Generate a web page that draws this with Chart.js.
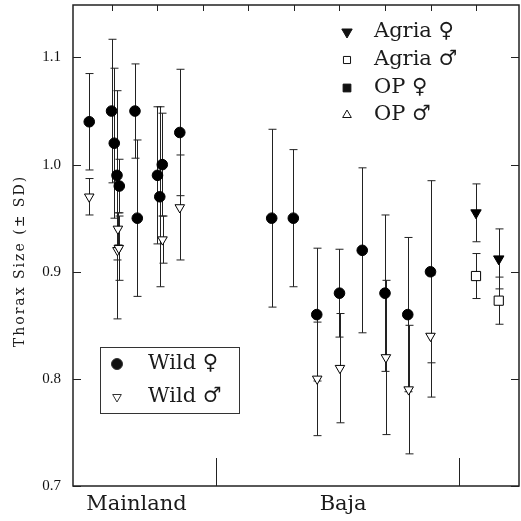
<!DOCTYPE html>
<html lang="en">
<head>
    <meta charset="UTF-8">
    <title>Thorax Size</title>
    <style>
        body { margin: 0; background: #fff; }
        canvas { display: block; }
    </style>
</head>
<body>
    <canvas id="thoraxChart" width="521" height="521"></canvas>

    <script src="https://cdn.jsdelivr.net/npm/chart.js"></script>
    <script>
        // Wild females (filled circles)
        const wildFemaleX  = [0.50, 0.99, 1.05, 1.11, 1.16, 1.505, 1.556, 2.00, 2.05, 2.105, 2.49, 4.51, 4.985, 5.50, 6.00, 6.50, 7.00, 7.50, 8.00];
        const wildFemaleY  = [1.040, 1.050, 1.020, 0.990, 0.980, 1.050, 0.950, 0.990, 0.970, 1.000, 1.030, 0.950, 0.950, 0.860, 0.880, 0.920, 0.880, 0.860, 0.900];
        const wildFemaleSD = [0.045, 0.067, 0.070, 0.079, 0.025, 0.044, 0.073, 0.064, 0.084, 0.048, 0.059, 0.083, 0.064, 0.062, 0.041, 0.077, 0.073, 0.072, 0.085];

        // Wild males (open down triangles)
        const wildMaleX  = [0.50, 1.13, 1.12, 1.15, 2.11, 2.49, 5.51, 6.01, 7.02, 7.52, 8.00];
        const wildMaleY  = [0.970, 0.940, 0.920, 0.922, 0.930, 0.960, 0.800, 0.810, 0.820, 0.790, 0.840];
        const wildMaleSD = [0.017, 0.015, 0.064, 0.030, 0.022, 0.049, 0.053, 0.051, 0.072, 0.060, 0.057];

        // Agria
        const agriaFemaleX  = [9.0, 9.5];
        const agriaFemaleY  = [0.955, 0.912];
        const agriaFemaleSD = [0.027, 0.028];
        const agriaMaleX  = [9.0, 9.5];
        const agriaMaleY  = [0.896, 0.873];
        const agriaMaleSD = [0.021, 0.022];

        const yTickValues = [0.7, 0.8, 0.9, 1.0, 1.1];
        const topTickValues = [1, 2, 3, 4, 5, 6, 7, 8, 9];
        const separatorValues = [3.285, 8.63];
        const regionNames = ['Mainland', 'Baja'];
        const regionCenters = [1.54, 6.08];
        const yTitle = 'Thorax Size (± SD)';

        const labelFont = '21px "DejaVu Serif", serif';

        function toPoints(xs, ys) {
            return xs.map((x, i) => ({ x: x, y: ys[i] }));
        }

        function drawLabel(ctx, str, x, y, align) {
            ctx.save();
            ctx.font = labelFont;
            ctx.fillStyle = '#1a1a1a';
            ctx.textAlign = align || 'left';
            ctx.textBaseline = 'middle';
            ctx.fillText(str, x, y);
            ctx.restore();
        }

        const errorBars = {
            id: 'errorBars',
            beforeDatasetsDraw(chart) {
                const ctx = chart.ctx;
                const xs = chart.scales.x, ys = chart.scales.y;
                ctx.save();
                ctx.strokeStyle = '#222';
                ctx.lineWidth = 1;
                chart.data.datasets.forEach(ds => {
                    ds.data.forEach((p, i) => {
                        const sd = ds.sd[i];
                        const px = Math.round(xs.getPixelForValue(p.x)) + 0.5;
                        const top = ys.getPixelForValue(p.y + sd);
                        const bot = ys.getPixelForValue(p.y - sd);
                        ctx.beginPath();
                        ctx.moveTo(px, top); ctx.lineTo(px, bot);
                        ctx.moveTo(px - 4, top); ctx.lineTo(px + 4, top);
                        ctx.moveTo(px - 4, bot); ctx.lineTo(px + 4, bot);
                        ctx.stroke();
                    });
                });
                ctx.restore();
            }
        };

        const frameAndLabels = {
            id: 'frameAndLabels',
            afterDraw(chart) {
                const ctx = chart.ctx;
                const a = chart.chartArea;
                const xs = chart.scales.x, ys = chart.scales.y;
                ctx.save();
                ctx.strokeStyle = '#222';
                ctx.lineWidth = 1.5;
                ctx.strokeRect(a.left, a.top, a.right - a.left, a.bottom - a.top);

                // inward ticks
                ctx.lineWidth = 1;
                ctx.beginPath();
                yTickValues.forEach(v => {
                    const py = Math.round(ys.getPixelForValue(v)) + 0.5;
                    ctx.moveTo(a.left, py); ctx.lineTo(a.left + 8, py);
                    ctx.moveTo(a.right, py); ctx.lineTo(a.right - 8, py);
                });
                topTickValues.forEach(v => {
                    const px = Math.round(xs.getPixelForValue(v)) + 0.5;
                    ctx.moveTo(px, a.top); ctx.lineTo(px, a.top + 6);
                });
                separatorValues.forEach(v => {
                    const px = Math.round(xs.getPixelForValue(v)) + 0.5;
                    ctx.moveTo(px, a.bottom); ctx.lineTo(px, a.bottom - 28);
                });
                ctx.stroke();

                // y axis title, spaced out like the typewriter original
                ctx.save();
                ctx.translate(20, 261);
                ctx.rotate(-Math.PI / 2);
                ctx.font = '14px "DejaVu Serif", serif';
                ctx.letterSpacing = '2px';
                ctx.fillStyle = '#1a1a1a';
                ctx.textAlign = 'center';
                ctx.textBaseline = 'middle';
                ctx.fillText(yTitle, 0, 0);
                ctx.restore();

                // region names under the axis
                regionNames.forEach((name, i) => {
                    drawLabel(ctx, name, xs.getPixelForValue(regionCenters[i]), 505, 'center');
                });

                // top-right legend
                const pt = Chart.helpers.drawPoint;
                const rows = [
                    { label: 'Agria ♀', style: 'triangle', rot: 180, fill: '#111', r: 6 },
                    { label: 'Agria ♂', style: 'rect', rot: 0, fill: '#fff', r: 5 },
                    { label: 'OP ♀', style: 'rect', rot: 0, fill: '#111', r: 5.5 },
                    { label: 'OP ♂', style: 'triangle', rot: 0, fill: '#fff', r: 5 }
                ];
                const rowY = [32, 60, 88, 115];
                rows.forEach((row, i) => {
                    ctx.fillStyle = row.fill;
                    ctx.strokeStyle = '#111';
                    ctx.lineWidth = 1;
                    pt(ctx, { pointStyle: row.style, rotation: row.rot, radius: row.r, borderWidth: 1 }, 347, rowY[i]);
                    drawLabel(ctx, row.label, 374, rowY[i]);
                });

                // bottom-left legend box
                ctx.strokeStyle = '#333';
                ctx.lineWidth = 1;
                ctx.strokeRect(100.5, 347.5, 139, 66);
                ctx.fillStyle = '#111';
                pt(ctx, { pointStyle: 'circle', radius: 5.5, borderWidth: 1 }, 117, 364);
                ctx.fillStyle = '#fff';
                pt(ctx, { pointStyle: 'triangle', rotation: 180, radius: 5, borderWidth: 1 }, 117, 397);
                drawLabel(ctx, 'Wild ♀', 148, 364);
                drawLabel(ctx, 'Wild ♂', 148, 397);
                ctx.restore();
            }
        };

        new Chart(document.getElementById('thoraxChart').getContext('2d'), {
            type: 'scatter',
            data: {
                datasets: [
                    {
                        label: 'Wild ♀', data: toPoints(wildFemaleX, wildFemaleY), sd: wildFemaleSD,
                        pointStyle: 'circle', pointRadius: 5.3, backgroundColor: '#000', borderColor: '#000', borderWidth: 1
                    },
                    {
                        label: 'Wild ♂', data: toPoints(wildMaleX, wildMaleY), sd: wildMaleSD,
                        pointStyle: 'triangle', rotation: 180, pointRadius: 5.5, backgroundColor: '#fff', borderColor: '#000', borderWidth: 1
                    },
                    {
                        label: 'Agria ♀', data: toPoints(agriaFemaleX, agriaFemaleY), sd: agriaFemaleSD,
                        pointStyle: 'triangle', rotation: 180, pointRadius: 6, backgroundColor: '#000', borderColor: '#000', borderWidth: 1
                    },
                    {
                        label: 'Agria ♂', data: toPoints(agriaMaleX, agriaMaleY), sd: agriaMaleSD,
                        pointStyle: 'rect', pointRadius: 6.5, backgroundColor: '#fff', borderColor: '#000', borderWidth: 1
                    }
                ]
            },
            options: {
                responsive: false,
                animation: false,
                devicePixelRatio: 1,
                layout: { autoPadding: false, padding: { top: 5, right: 2, left: 0, bottom: 0 } },
                plugins: { legend: { display: false }, tooltip: { enabled: false } },
                scales: {
                    x: {
                        type: 'linear', min: 0.143, max: 9.945,
                        grid: { display: false }, border: { display: false },
                        ticks: { display: false },
                        afterFit: s => { s.height = 35; s.paddingLeft = 0; s.paddingRight = 0; }
                    },
                    y: {
                        min: 0.7, max: 1.149,
                        grid: { display: false, drawTicks: false }, border: { display: false },
                        afterBuildTicks: s => { s.ticks = yTickValues.map(v => ({ value: v })); },
                        ticks: {
                            padding: 12, color: '#111',
                            font: { family: '"Liberation Serif", serif', size: 15 },
                            callback: v => v.toFixed(1)
                        },
                        afterFit: s => { s.width = 73; s.paddingTop = 0; s.paddingBottom = 0; }
                    }
                }
            },
            plugins: [errorBars, frameAndLabels]
        });
    </script>
</body>
</html>
